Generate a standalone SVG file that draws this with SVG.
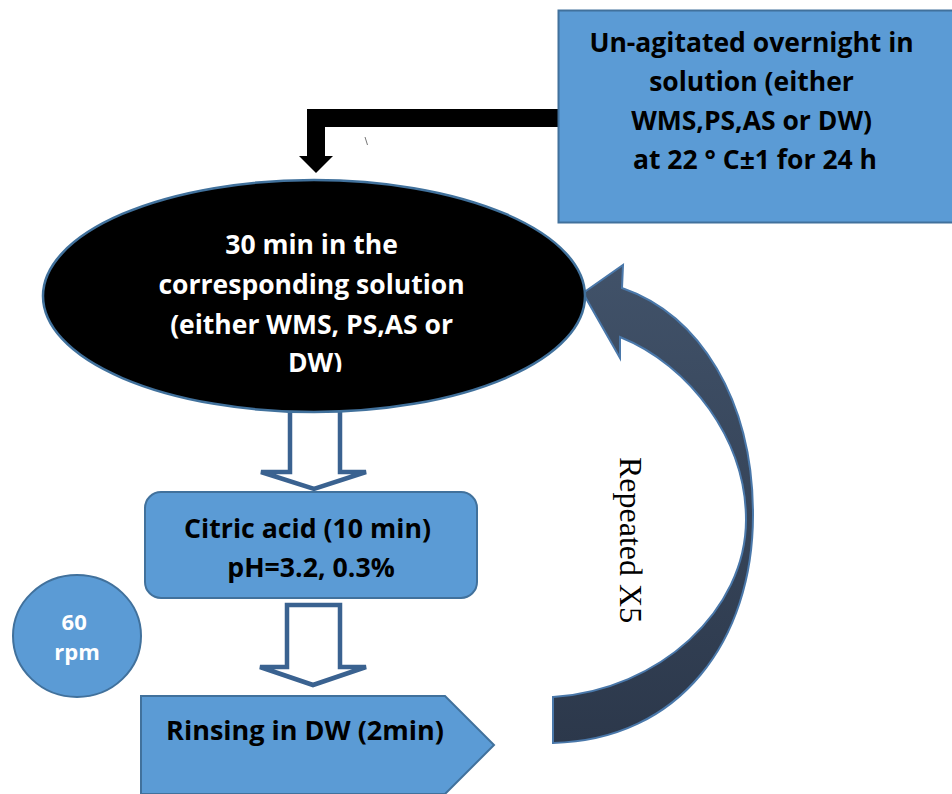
<svg xmlns="http://www.w3.org/2000/svg" width="952" height="794" viewBox="0 0 952 794">
  <style>
    .box { fill: #5b9bd5; stroke: #41719c; stroke-width: 2; }
    .hollow { fill: #ffffff; stroke: #3a6290; stroke-width: 4.5; stroke-linejoin: miter; }
    .lbl { font-family: "Open Sans", "Liberation Sans", sans-serif; font-weight: 700; text-anchor: middle; }
    .dark { fill: #000000; }
    .light { fill: #ffffff; }
  </style>
  <defs>
    <linearGradient id="loopFill" x1="0" y1="0" x2="0" y2="1">
      <stop offset="0" stop-color="#415269"/>
      <stop offset="1" stop-color="#2c384b"/>
    </linearGradient>
    <clipPath id="ovalText">
      <rect x="40" y="200" width="550" height="172"/>
    </clipPath>
  </defs>

  <rect width="952" height="794" fill="#ffffff"/>

  <!-- connectors -->
  <g id="connectors">
    <!-- bent black arrow from overnight box down to the oval -->
    <path d="M558,109 L307,109 L307,156 L299,156 L316,173 L333,156 L325,156 L325,127 L558,127 Z" fill="#000000"/>
    <line x1="365" y1="137" x2="367.5" y2="145" stroke="#777777" stroke-width="1"/>
    <!-- hollow arrow: oval to citric acid -->
    <path class="hollow" d="M290,408 L290,472 L261,472 L314,489 L366,472 L340,472 L340,408"/>
    <!-- hollow arrow: citric acid to rinsing -->
    <path class="hollow" d="M287,605 L287,667 L260,667 L313,685 L366,667 L340,667 L340,605 Z"/>
    <!-- curved return arrow -->
    <path d="M583,293 L623,265 L622,288 C700,315 753,400 753,515 C753,640 680,740 553,743 L553,697 C660,690 746,610 746,520 C746,440 690,365 620,337 L620,358 Z" fill="url(#loopFill)" stroke="#4a78aa" stroke-width="2" stroke-linejoin="miter"/>
    <text transform="translate(620,457) rotate(90)" font-family="'Liberation Serif', serif" font-size="32" fill="#000000">Repeated X5</text>
  </g>

  <!-- overnight soak -->
  <g id="overnight">
    <rect class="box" x="558.5" y="10.5" width="400" height="212"/>
    <text class="lbl dark" font-size="26.5">
      <tspan x="755" y="52">Un-agitated overnight in</tspan>
      <tspan x="755" y="91">solution (either</tspan>
      <tspan x="755" y="130">WMS,PS,AS or DW)</tspan>
      <tspan x="755" y="169">at 22 ° C±1 for 24 h</tspan>
    </text>
  </g>

  <!-- 30 min soak -->
  <g id="soak30">
    <ellipse cx="314" cy="296" rx="271" ry="116" fill="#000000" stroke="#41719c" stroke-width="2.5"/>
    <g clip-path="url(#ovalText)">
      <text class="lbl light" font-size="26.5">
        <tspan x="315" y="254">30 min in the</tspan>
        <tspan x="315" y="294">corresponding solution</tspan>
        <tspan x="315" y="334">(either WMS, PS,AS or</tspan>
        <tspan x="315" y="372">DW)</tspan>
      </text>
    </g>
  </g>

  <!-- citric acid -->
  <g id="citric">
    <rect class="box" x="145" y="492" width="332" height="106" rx="16" ry="16"/>
    <text class="lbl dark" font-size="26.7">
      <tspan x="311" y="538">Citric acid (10 min)</tspan>
      <tspan x="311" y="577">pH=3.2, 0.3%</tspan>
    </text>
  </g>

  <!-- agitation speed -->
  <g id="rpm">
    <ellipse class="box" cx="77" cy="636" rx="64" ry="61"/>
    <text class="lbl light" font-size="22">
      <tspan x="77" y="630">60</tspan>
      <tspan x="77" y="660">rpm</tspan>
    </text>
  </g>

  <!-- rinsing -->
  <g id="rinse">
    <path class="box" d="M141,696 L445,696 L494,745 L445,794 L141,794 Z"/>
    <text class="lbl dark" font-size="27" x="305" y="740">Rinsing in DW (2min)</text>
  </g>
</svg>
